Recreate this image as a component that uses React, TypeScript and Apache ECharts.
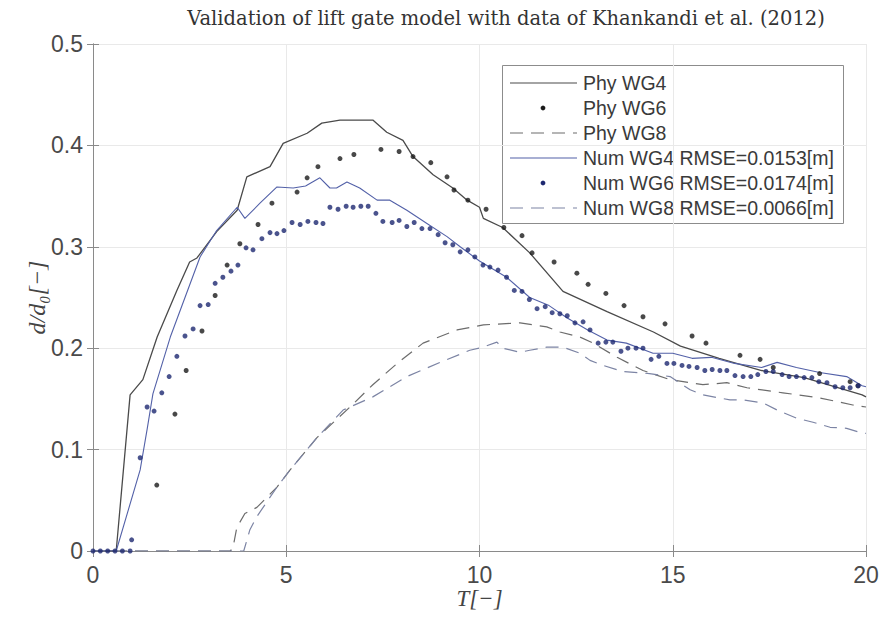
import React, { useEffect, useRef } from "react";
import * as echarts from "echarts";

const TITLE = "Validation of lift gate model with data of Khankandi et al. (2012)";
const X_TICKS = [0, 5, 10, 15, 20];
const Y_TICKS = [0, 0.1, 0.2, 0.3, 0.4, 0.5];

const LEGEND_NAMES = [
  "Phy WG4",
  "Phy WG6",
  "Phy WG8",
  "Num WG4 RMSE=0.0153[m]",
  "Num WG6 RMSE=0.0174[m]",
  "Num WG8 RMSE=0.0066[m]",
];

const PHY_WG4 = [
  [0, 0], [0.6, 0], [0.96, 0.154], [1.29, 0.169], [1.66, 0.211], [2.17, 0.257], [2.5, 0.285],
  [2.69, 0.289], [3.2, 0.315], [3.73, 0.336], [3.98, 0.369], [4.58, 0.379], [4.92, 0.402],
  [5.54, 0.412], [5.92, 0.422], [6.39, 0.425], [7.24, 0.425], [7.6, 0.413], [8.02, 0.405],
  [8.28, 0.389], [8.8, 0.371], [9.31, 0.358], [9.68, 0.346], [10.0, 0.339], [10.1, 0.328],
  [10.6, 0.319], [11.3, 0.294], [12.16, 0.256], [13.3, 0.236], [14.5, 0.216], [15.2, 0.202],
  [16.2, 0.19], [17.3, 0.178], [18.4, 0.171], [19.9, 0.154], [20, 0.152],
];

const NUM_WG4 = [
  [0, 0], [0.6, 0], [1.22, 0.08], [1.4, 0.12], [1.55, 0.155], [2.0, 0.211], [2.77, 0.29],
  [3.2, 0.316], [3.73, 0.339], [3.93, 0.328], [4.32, 0.343], [4.76, 0.359], [5.18, 0.358],
  [5.5, 0.36], [5.87, 0.368], [6.13, 0.358], [6.3, 0.358], [6.57, 0.364], [6.9, 0.358],
  [7.35, 0.346], [7.68, 0.346], [8.12, 0.336], [8.64, 0.323], [9.16, 0.31], [9.5, 0.3],
  [10.0, 0.286], [10.7, 0.27], [11.3, 0.25], [11.8, 0.242], [12.26, 0.23], [12.8, 0.218],
  [13.3, 0.208], [13.8, 0.205], [14.49, 0.195], [15.0, 0.195], [15.5, 0.19], [16.0, 0.191],
  [16.6, 0.185], [17.3, 0.181], [17.7, 0.186], [18.2, 0.181], [18.8, 0.176], [19.5, 0.172],
  [19.9, 0.163], [20, 0.162],
];

const PHY_WG6 = [
  [1.65, 0.065], [2.12, 0.135], [2.41, 0.178], [2.82, 0.217], [3.16, 0.252], [3.47, 0.282],
  [3.8, 0.303], [4.27, 0.322], [4.63, 0.343], [5.28, 0.354], [5.54, 0.368], [5.82, 0.379],
  [6.39, 0.387], [6.75, 0.391], [7.45, 0.396], [7.92, 0.394], [8.28, 0.389], [8.74, 0.383],
  [9.16, 0.369], [9.34, 0.356], [9.7, 0.346], [10.17, 0.337], [10.63, 0.319], [11.1, 0.311],
  [11.36, 0.294], [11.93, 0.285], [12.52, 0.274], [12.81, 0.263], [13.27, 0.254],
  [13.74, 0.242], [14.23, 0.231], [14.8, 0.224], [15.5, 0.212], [15.86, 0.205],
  [16.74, 0.193], [17.26, 0.189], [17.6, 0.181], [18.8, 0.175], [19.59, 0.167], [19.79, 0.163],
];

const NUM_WG6 = [
  [0, 0], [0.19, 0], [0.38, 0], [0.57, 0], [0.76, 0], [0.96, 0], [1.0, 0.011], [1.22, 0.092],
  [1.4, 0.142], [1.58, 0.138], [1.78, 0.156], [1.97, 0.172], [2.17, 0.192], [2.38, 0.212],
  [2.59, 0.219], [2.77, 0.242], [2.98, 0.243], [3.16, 0.264], [3.36, 0.27], [3.57, 0.276],
  [3.75, 0.282], [3.96, 0.299], [4.14, 0.297], [4.37, 0.308], [4.58, 0.314], [4.76, 0.313],
  [4.94, 0.316], [5.15, 0.324], [5.36, 0.322], [5.56, 0.325], [5.77, 0.324], [5.95, 0.323],
  [6.13, 0.339], [6.34, 0.337], [6.55, 0.34], [6.73, 0.339], [6.93, 0.34], [7.12, 0.34],
  [7.32, 0.333], [7.5, 0.325], [7.74, 0.324], [7.92, 0.326], [8.12, 0.32], [8.31, 0.324],
  [8.51, 0.318], [8.72, 0.318], [8.93, 0.312], [9.11, 0.304], [9.31, 0.302], [9.5, 0.295],
  [9.7, 0.297], [9.88, 0.29], [10.09, 0.282], [10.27, 0.28], [10.48, 0.277], [10.7, 0.27],
  [10.9, 0.257], [11.1, 0.256], [11.29, 0.248], [11.49, 0.239], [11.7, 0.241], [11.88, 0.235],
  [12.08, 0.234], [12.27, 0.232], [12.47, 0.225], [12.68, 0.226], [12.86, 0.218],
  [13.07, 0.205], [13.27, 0.206], [13.45, 0.206], [13.66, 0.197], [13.84, 0.2], [14.05, 0.2],
  [14.23, 0.2], [14.44, 0.189], [14.64, 0.192], [14.85, 0.185], [15.03, 0.185],
  [15.24, 0.183], [15.42, 0.182], [15.63, 0.181], [15.83, 0.178], [16.02, 0.179],
  [16.22, 0.178], [16.4, 0.178], [16.61, 0.173], [16.82, 0.172], [17.02, 0.172],
  [17.2, 0.174], [17.41, 0.177], [17.6, 0.177], [17.83, 0.174], [18.01, 0.172], [18.2, 0.172],
  [18.4, 0.171], [18.6, 0.171], [18.78, 0.167], [18.99, 0.166], [19.2, 0.162], [19.4, 0.161],
  [19.59, 0.161], [19.8, 0.163],
];

const PHY_WG8 = [
  [0, 0], [3.55, 0], [3.62, 0.003], [3.72, 0.023], [3.93, 0.037], [4.24, 0.043], [4.76, 0.063],
  [5.1, 0.08], [5.8, 0.112], [6.65, 0.142], [7.24, 0.164], [7.87, 0.185], [8.54, 0.205],
  [9.42, 0.218], [10.1, 0.223], [11.05, 0.225], [11.74, 0.221], [12.08, 0.216], [12.6, 0.211],
  [12.94, 0.205], [13.56, 0.191], [14.23, 0.178], [14.93, 0.169], [15.78, 0.164],
  [16.4, 0.166], [16.92, 0.161], [17.85, 0.156], [18.8, 0.151], [19.66, 0.144], [20, 0.142],
];

const NUM_WG8 = [
  [0, 0], [3.9, 0], [4.06, 0.021], [4.24, 0.034], [4.76, 0.063], [5.1, 0.08], [5.8, 0.112],
  [6.47, 0.139], [7.24, 0.152], [8.12, 0.172], [8.98, 0.186], [9.75, 0.198], [10.09, 0.201],
  [10.45, 0.206], [10.6, 0.2], [11.05, 0.196], [11.3, 0.198], [11.74, 0.201], [12.16, 0.201],
  [12.6, 0.195], [12.86, 0.188], [13.2, 0.183], [13.7, 0.177], [14.4, 0.175], [14.93, 0.172],
  [15.45, 0.159], [15.78, 0.154], [16.48, 0.149], [16.82, 0.149], [17.34, 0.146],
  [17.7, 0.139], [18.2, 0.131], [18.63, 0.127], [19.07, 0.122], [19.5, 0.121],
  [19.84, 0.117], [20, 0.116],
];

const C_PHY_LINE = "#4a4a4a";
const C_NUM_LINE = "#5361a8";
const C_PHY_DOT = "#1a1a1a";
const C_NUM_DOT = "#1d2870";
const C_PHY_DASH = "#6c6c6c";
const C_NUM_DASH = "#7c84a4";
const DASH = [13, 8];

const GRID = { left: 93, right: 19, top: 44, bottom: 67 };

export default function App() {
  const ref = useRef<HTMLDivElement>(null);

  useEffect(() => {
    if (!ref.current) return;
    const chart = echarts.init(ref.current, null, { renderer: "svg" });

    const styles = [
      { kind: "line", color: C_PHY_LINE, dash: null },
      { kind: "dot", color: C_PHY_DOT, dash: null },
      { kind: "line", color: C_PHY_DASH, dash: DASH },
      { kind: "line", color: C_NUM_LINE, dash: null },
      { kind: "dot", color: C_NUM_DOT, dash: null },
      { kind: "line", color: C_NUM_DASH, dash: DASH },
    ];

    const lgX = 502, lgY = 65, lgW = 341, lgH = 158, rowY0 = 83, rowGap = 25;
    const legendChildren: any[] = [
      {
        type: "rect",
        shape: { x: lgX + 0.5, y: lgY + 0.5, width: lgW, height: lgH },
        style: { fill: "#ffffff", stroke: "#8c8c8c", lineWidth: 1 },
      },
    ];
    LEGEND_NAMES.forEach((name, i) => {
      const y = rowY0 + i * rowGap;
      const s = styles[i];
      if (s.kind === "line") {
        legendChildren.push({
          type: "line",
          shape: { x1: 510, y1: y, x2: 577, y2: y },
          style: { stroke: s.color, lineWidth: 1.2, lineDash: s.dash || undefined },
        });
      } else {
        legendChildren.push({
          type: "circle",
          shape: { cx: 543, cy: y, r: 2.4 },
          style: { fill: s.color },
        });
      }
      legendChildren.push({
        type: "text",
        x: 583,
        y: y,
        style: {
          text: name,
          fill: "#3a3a3a",
          font: "19.5px 'Liberation Sans', Arial, sans-serif",
          verticalAlign: "middle",
          align: "left",
        },
      });
    });

    const axisLineStyle = { color: "#8a8a8a", width: 1 };
    const tickStyle = { show: true, inside: true, length: 6, lineStyle: { color: "#8a8a8a" } };

    chart.setOption({
      animation: false,
      backgroundColor: "#ffffff",
      title: {
        text: TITLE,
        left: 501,
        top: 3,
        textAlign: "center",
        textStyle: {
          fontFamily: "'DejaVu Serif', serif",
          fontSize: 19.5,
          fontWeight: "normal",
          color: "#333333",
        },
      },
      grid: GRID,
      xAxis: [
        {
          type: "value",
          min: 0,
          max: 20,
          interval: 5,
          position: "bottom",
          name: "T[\u2212]",
          nameLocation: "middle",
          nameMoveOverlap: false,
          nameGap: 36,
          nameTextStyle: {
            fontFamily: "'Liberation Serif', 'DejaVu Serif', serif",
            fontStyle: "italic",
            fontSize: 23,
            color: "#444444",
          },
          axisLine: { show: true, lineStyle: axisLineStyle },
          axisTick: tickStyle,
          axisLabel: {
            color: "#4a4a4a",
            fontSize: 23,
            fontFamily: "'Liberation Sans', Arial, sans-serif",
            margin: 12,
          },
          splitLine: { show: true, lineStyle: { color: "#e9e9e9", width: 1 } },
        },
        {
          type: "value",
          min: 0,
          max: 20,
          interval: 5,
          position: "top",
          axisLine: { show: true, lineStyle: axisLineStyle },
          axisTick: tickStyle,
          axisLabel: { show: false },
          splitLine: { show: false },
        },
      ],
      yAxis: [
        {
          type: "value",
          min: 0,
          max: 0.5,
          interval: 0.1,
          position: "left",
          name: "d/d\u2080[\u2212]",
          nameLocation: "middle",
          nameMoveOverlap: false,
          nameGap: 44,
          nameTextStyle: {
            fontFamily: "'Liberation Serif', 'DejaVu Serif', serif",
            fontStyle: "italic",
            fontSize: 24,
            color: "#444444",
          },
          axisLine: { show: true, lineStyle: axisLineStyle },
          axisTick: tickStyle,
          axisLabel: {
            color: "#4a4a4a",
            fontSize: 23,
            fontFamily: "'Liberation Sans', Arial, sans-serif",
            margin: 10,
            formatter: (v: number) => (v === 0 ? "0" : v.toFixed(1)),
          },
          splitLine: { show: true, lineStyle: { color: "#e9e9e9", width: 1 } },
        },
        {
          type: "value",
          min: 0,
          max: 0.5,
          interval: 0.1,
          position: "right",
          axisLine: { show: true, lineStyle: axisLineStyle },
          axisTick: tickStyle,
          axisLabel: { show: false },
          splitLine: { show: false },
        },
      ],
      series: [
        {
          name: LEGEND_NAMES[0],
          type: "line",
          data: PHY_WG4,
          symbol: "none",
          lineStyle: { color: C_PHY_LINE, width: 1.3 },
          z: 3,
        },
        {
          name: LEGEND_NAMES[1],
          type: "scatter",
          data: PHY_WG6,
          symbol: "circle",
          symbolSize: 5,
          itemStyle: { color: C_PHY_DOT },
          z: 4,
        },
        {
          name: LEGEND_NAMES[2],
          type: "line",
          data: PHY_WG8,
          symbol: "none",
          lineStyle: { color: C_PHY_DASH, width: 1.2, type: DASH },
          z: 3,
        },
        {
          name: LEGEND_NAMES[3],
          type: "line",
          data: NUM_WG4,
          symbol: "none",
          lineStyle: { color: C_NUM_LINE, width: 1.1 },
          z: 3,
        },
        {
          name: LEGEND_NAMES[4],
          type: "scatter",
          data: NUM_WG6,
          symbol: "circle",
          symbolSize: 5,
          itemStyle: { color: C_NUM_DOT },
          z: 4,
        },
        {
          name: LEGEND_NAMES[5],
          type: "line",
          data: NUM_WG8,
          symbol: "none",
          lineStyle: { color: C_NUM_DASH, width: 1.2, type: DASH },
          z: 3,
        },
      ],
      graphic: [{ type: "group", z: 100, children: legendChildren }],
    });

    return () => chart.dispose();
  }, []);

  return (
    <div
      ref={ref}
      style={{ position: "fixed", left: 0, top: 0, width: 885, height: 618, background: "#fff" }}
    />
  );
}
